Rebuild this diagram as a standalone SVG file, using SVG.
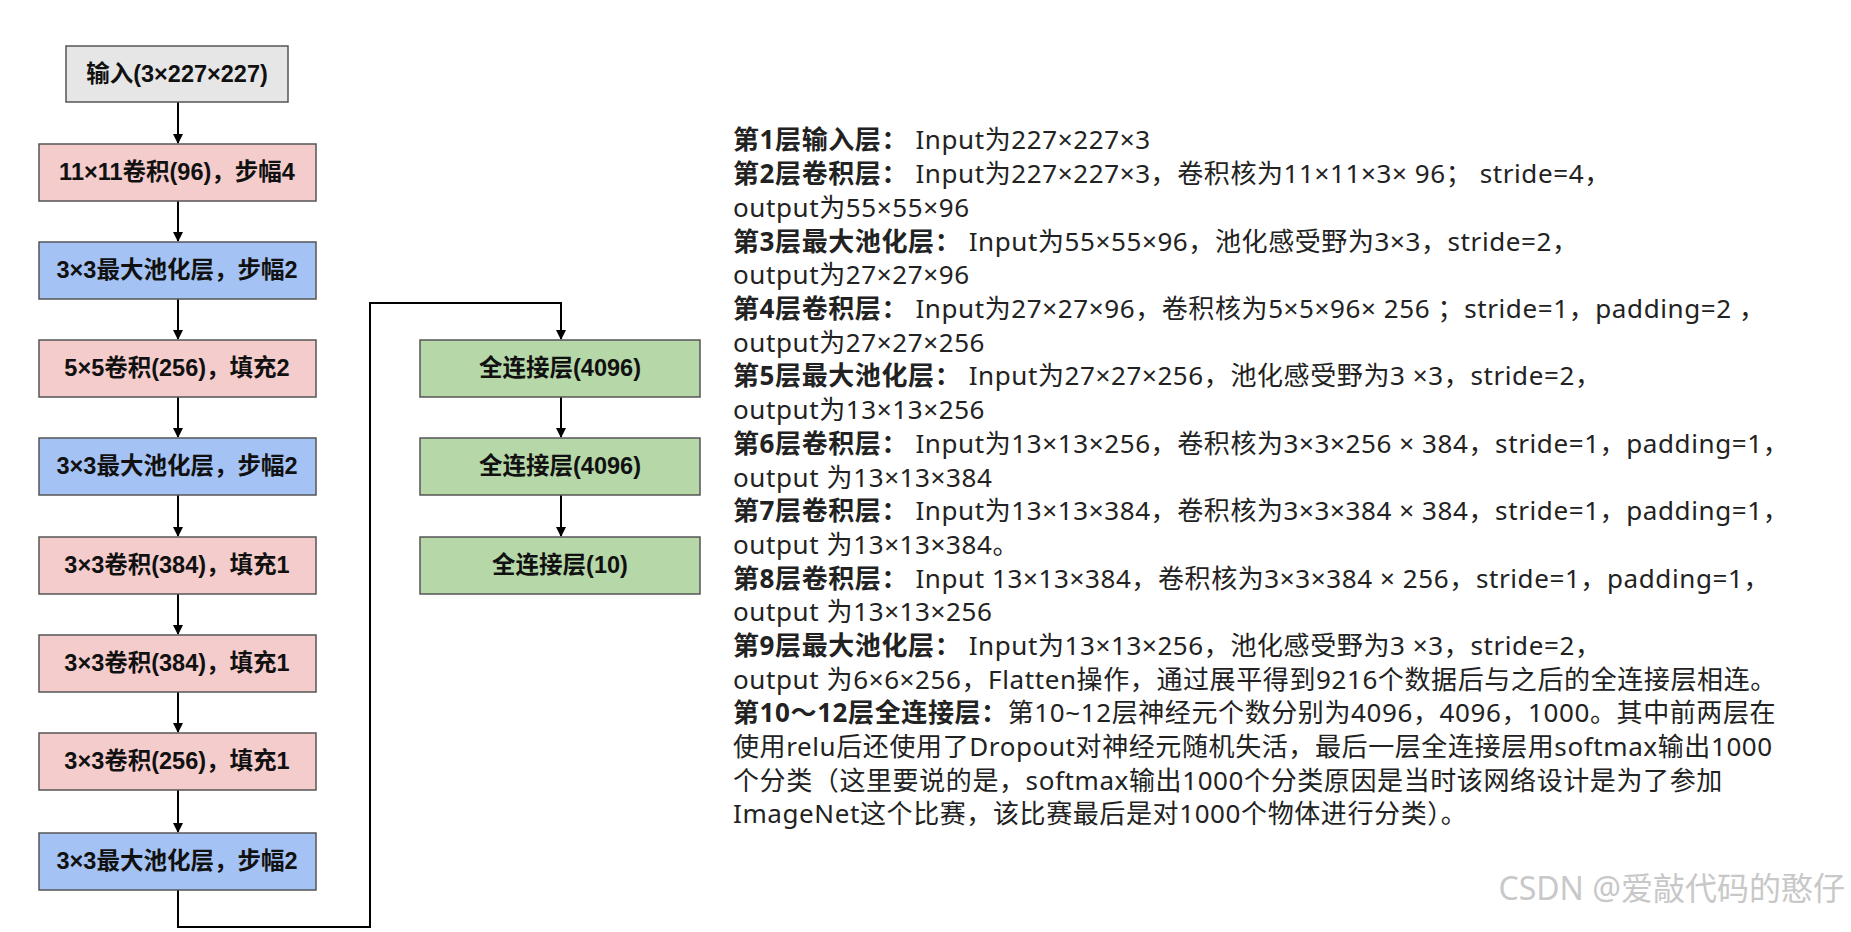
<svg xmlns="http://www.w3.org/2000/svg" width="1851" height="932" viewBox="0 0 1851 932">
<style>
.b{stroke:#555;stroke-width:1.5}
.g{fill:#e6e6e6}.p{fill:#f4cccc}.u{fill:#a4c2f4}.n{fill:#b6d7a8}
.l{font-family:"Liberation Sans","Noto Sans CJK SC",sans-serif;font-size:23.5px;font-weight:bold;text-anchor:middle;dominant-baseline:central;fill:#111}
.t{font-family:"Noto Sans","Noto Sans CJK SC",sans-serif;font-size:26px;letter-spacing:0.6px;dominant-baseline:central;fill:#222}
.t tspan.h{font-weight:bold}
.c{fill:none;stroke:#000;stroke-width:2}
</style>
<defs><marker id="a" markerWidth="10" markerHeight="10" refX="9" refY="5" orient="auto" markerUnits="userSpaceOnUse"><path d="M0,0L10,5L0,10z" fill="#000"/></marker></defs>
<rect width="1851" height="932" fill="#fff"/>
<g id="connectors">
<path class="c" marker-end="url(#a)" d="M178,102V143"/>
<path class="c" marker-end="url(#a)" d="M178,201V241"/>
<path class="c" marker-end="url(#a)" d="M178,299V339"/>
<path class="c" marker-end="url(#a)" d="M178,397V437"/>
<path class="c" marker-end="url(#a)" d="M178,495V536"/>
<path class="c" marker-end="url(#a)" d="M178,594V634"/>
<path class="c" marker-end="url(#a)" d="M178,692V732"/>
<path class="c" marker-end="url(#a)" d="M178,790V832"/>
<path class="c" marker-end="url(#a)" d="M178,890V927H370V303H561V339"/>
<path class="c" marker-end="url(#a)" d="M561,397V437"/>
<path class="c" marker-end="url(#a)" d="M561,495V536"/>
</g>
<g id="n0"><rect class="b g" x="66" y="46" width="222" height="56"/><text class="l" x="177" y="74">输入(3×227×227)</text></g>
<g id="n1"><rect class="b p" x="39" y="144" width="277" height="57"/><text class="l" x="177" y="172">11×11卷积(96)，步幅4</text></g>
<g id="n2"><rect class="b u" x="39" y="242" width="277" height="57"/><text class="l" x="177" y="270">3×3最大池化层，步幅2</text></g>
<g id="n3"><rect class="b p" x="39" y="340" width="277" height="57"/><text class="l" x="177" y="368">5×5卷积(256)，填充2</text></g>
<g id="n4"><rect class="b u" x="39" y="438" width="277" height="57"/><text class="l" x="177" y="466">3×3最大池化层，步幅2</text></g>
<g id="n5"><rect class="b p" x="39" y="537" width="277" height="57"/><text class="l" x="177" y="565">3×3卷积(384)，填充1</text></g>
<g id="n6"><rect class="b p" x="39" y="635" width="277" height="57"/><text class="l" x="177" y="663">3×3卷积(384)，填充1</text></g>
<g id="n7"><rect class="b p" x="39" y="733" width="277" height="57"/><text class="l" x="177" y="761">3×3卷积(256)，填充1</text></g>
<g id="n8"><rect class="b u" x="39" y="833" width="277" height="57"/><text class="l" x="177" y="861">3×3最大池化层，步幅2</text></g>
<g id="n9"><rect class="b n" x="420" y="340" width="280" height="57"/><text class="l" x="560" y="368">全连接层(4096)</text></g>
<g id="n10"><rect class="b n" x="420" y="438" width="280" height="57"/><text class="l" x="560" y="466">全连接层(4096)</text></g>
<g id="n11"><rect class="b n" x="420" y="537" width="280" height="57"/><text class="l" x="560" y="565">全连接层(10)</text></g>
<g id="desc" class="t">
<text class="t" x="733" y="139"><tspan class="h">第1层输入层：</tspan> Input为227×227×3</text>
<text class="t" x="733" y="173"><tspan class="h">第2层卷积层：</tspan> Input为227×227×3，卷积核为11×11×3× 96； stride=4，</text>
<text class="t" x="733" y="207">output为55×55×96</text>
<text class="t" x="733" y="241"><tspan class="h">第3层最大池化层：</tspan> Input为55×55×96，池化感受野为3×3，stride=2，</text>
<text class="t" x="733" y="274"> output为27×27×96</text>
<text class="t" x="733" y="308"><tspan class="h">第4层卷积层：</tspan> Input为27×27×96，卷积核为5×5×96× 256 ；stride=1，padding=2 ，</text>
<text class="t" x="733" y="342">output为27×27×256</text>
<text class="t" x="733" y="375"><tspan class="h">第5层最大池化层：</tspan> Input为27×27×256，池化感受野为3 ×3，stride=2，</text>
<text class="t" x="733" y="409">output为13×13×256</text>
<text class="t" x="733" y="443"><tspan class="h">第6层卷积层：</tspan> Input为13×13×256，卷积核为3×3×256 × 384，stride=1，padding=1，</text>
<text class="t" x="733" y="477">output 为13×13×384</text>
<text class="t" x="733" y="510"><tspan class="h">第7层卷积层：</tspan> Input为13×13×384，卷积核为3×3×384 × 384，stride=1，padding=1，</text>
<text class="t" x="733" y="544">output 为13×13×384。</text>
<text class="t" x="733" y="578"><tspan class="h">第8层卷积层：</tspan> Input 13×13×384，卷积核为3×3×384 × 256，stride=1，padding=1，</text>
<text class="t" x="733" y="611">output 为13×13×256</text>
<text class="t" x="733" y="645"><tspan class="h">第9层最大池化层：</tspan> Input为13×13×256，池化感受野为3 ×3，stride=2，</text>
<text class="t" x="733" y="679">output 为6×6×256，Flatten操作，通过展平得到9216个数据后与之后的全连接层相连。</text>
<text class="t" x="733" y="712"><tspan class="h">第10～12层全连接层：</tspan>第10~12层神经元个数分别为4096，4096，1000。其中前两层在</text>
<text class="t" x="733" y="746">使用relu后还使用了Dropout对神经元随机失活，最后一层全连接层用softmax输出1000</text>
<text class="t" x="733" y="780">个分类（这里要说的是，softmax输出1000个分类原因是当时该网络设计是为了参加</text>
<text class="t" x="733" y="813">ImageNet这个比赛，该比赛最后是对1000个物体进行分类）。</text>
</g>
<text x="1845" y="900" text-anchor="end" font-family="Noto Sans,Noto Sans CJK SC,sans-serif" font-size="32" fill="#c8c8c8">CSDN @爱敲代码的憨仔</text>
</svg>
